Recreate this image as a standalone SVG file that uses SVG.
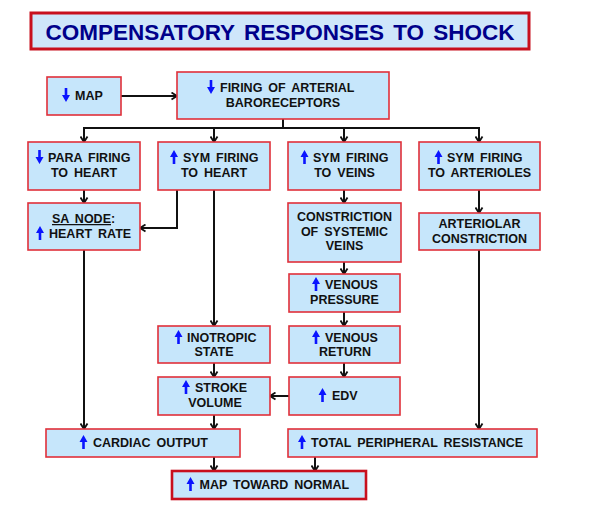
<svg xmlns="http://www.w3.org/2000/svg" width="592" height="520" viewBox="0 0 592 520">
<style>
.box{fill:#c6e6fb;stroke:#e0303a;stroke-width:1.6}
.t{font-family:"Liberation Sans",Arial,sans-serif;font-weight:bold;font-size:12.5px;fill:#111;word-spacing:2.5px}
.m{text-anchor:middle}
.c{fill:none;stroke:#111;stroke-width:2}
.ar{fill:#0a14ff}
</style>
<defs>
<marker id="ah" markerWidth="9" markerHeight="9" refX="7" refY="4.5" orient="auto" markerUnits="userSpaceOnUse">
<path d="M1.5,1 L7,4.5 L1.5,8" fill="none" stroke="#111" stroke-width="1.8"/>
</marker>
<path id="up" class="ar" d="M0,-14 L-4,-7 L-1.3,-7 L-1.3,0 L1.3,0 L1.3,-7 L4,-7 Z"/>
<path id="dn" class="ar" d="M0,0 L-4,-7 L-1.3,-7 L-1.3,-14 L1.3,-14 L1.3,-7 L4,-7 Z"/>
</defs>
<rect width="592" height="520" fill="#fff"/>

<g id="title">
<rect x="31" y="13" width="498" height="36" fill="#cfe6fa" stroke="#c8101e" stroke-width="3"/>
<text x="280" y="40" text-anchor="middle" font-family="Liberation Sans,Arial,sans-serif" font-weight="bold" font-size="22.5" fill="#00008a" word-spacing="3">COMPENSATORY RESPONSES TO SHOCK</text>
</g>

<g id="connectors">
<line class="c" x1="121" y1="96" x2="177" y2="96" marker-end="url(#ah)"/>
<line class="c" x1="283" y1="119" x2="283" y2="128"/>
<line class="c" x1="83" y1="128" x2="480" y2="128"/>
<line class="c" x1="84" y1="128" x2="84" y2="142" marker-end="url(#ah)"/>
<line class="c" x1="214" y1="128" x2="214" y2="142" marker-end="url(#ah)"/>
<line class="c" x1="344" y1="128" x2="344" y2="142" marker-end="url(#ah)"/>
<line class="c" x1="479" y1="128" x2="479" y2="142" marker-end="url(#ah)"/>
<line class="c" x1="84" y1="190" x2="84" y2="203" marker-end="url(#ah)"/>
<polyline class="c" points="177,190 177,228 140,228" marker-end="url(#ah)"/>
<line class="c" x1="214" y1="190" x2="214" y2="326" marker-end="url(#ah)"/>
<line class="c" x1="344" y1="190" x2="344" y2="203" marker-end="url(#ah)"/>
<line class="c" x1="479" y1="190" x2="479" y2="213" marker-end="url(#ah)"/>
<line class="c" x1="344" y1="262" x2="344" y2="274" marker-end="url(#ah)"/>
<line class="c" x1="344" y1="312" x2="344" y2="326" marker-end="url(#ah)"/>
<line class="c" x1="344" y1="363" x2="344" y2="377" marker-end="url(#ah)"/>
<line class="c" x1="214" y1="363" x2="214" y2="377" marker-end="url(#ah)"/>
<line class="c" x1="289" y1="396" x2="270" y2="396" marker-end="url(#ah)"/>
<line class="c" x1="214" y1="415" x2="214" y2="429" marker-end="url(#ah)"/>
<line class="c" x1="84" y1="250" x2="84" y2="429" marker-end="url(#ah)"/>
<line class="c" x1="479" y1="250" x2="479" y2="429" marker-end="url(#ah)"/>
<line class="c" x1="214" y1="457" x2="214" y2="471" marker-end="url(#ah)"/>
<line class="c" x1="315" y1="457" x2="315" y2="471" marker-end="url(#ah)"/>
</g>

<g id="map">
<rect class="box" x="47" y="77" width="74" height="38"/>
<use href="#dn" x="66" y="102"/>
<text class="t" x="75" y="100">MAP</text>
</g>

<g id="baro">
<rect class="box" x="177" y="72" width="212" height="47"/>
<use href="#dn" x="211" y="94"/>
<text class="t" x="220" y="92">FIRING OF ARTERIAL</text>
<text class="t m" x="283" y="107">BARORECEPTORS</text>
</g>

<g id="para">
<rect class="box" x="28" y="142" width="112" height="48"/>
<use href="#dn" x="39.5" y="164"/>
<text class="t" x="48" y="162">PARA FIRING</text>
<text class="t m" x="84" y="177">TO HEART</text>
</g>

<g id="symheart">
<rect class="box" x="158" y="142" width="112" height="48"/>
<use href="#up" x="174" y="164"/>
<text class="t" x="183" y="162">SYM FIRING</text>
<text class="t m" x="214" y="177">TO HEART</text>
</g>

<g id="symveins">
<rect class="box" x="288" y="142" width="113" height="48"/>
<use href="#up" x="304.5" y="164"/>
<text class="t" x="313" y="162">SYM FIRING</text>
<text class="t m" x="344.5" y="177">TO VEINS</text>
</g>

<g id="symart">
<rect class="box" x="419" y="142" width="121" height="48"/>
<use href="#up" x="438.5" y="164"/>
<text class="t" x="447" y="162">SYM FIRING</text>
<text class="t m" x="479.5" y="177">TO ARTERIOLES</text>
</g>

<g id="sanode">
<rect class="box" x="28" y="203" width="112" height="47"/>
<text class="t" x="52" y="223"><tspan text-decoration="underline">SA NODE</tspan>:</text>
<use href="#up" x="40" y="240"/>
<text class="t" x="49" y="238">HEART RATE</text>
</g>

<g id="constriction">
<rect class="box" x="288" y="203" width="113" height="59"/>
<text class="t m" x="344.5" y="221">CONSTRICTION</text>
<text class="t m" x="344.5" y="235.5">OF SYSTEMIC</text>
<text class="t m" x="344.5" y="250">VEINS</text>
</g>

<g id="arteriolar">
<rect class="box" x="419" y="213" width="121" height="37"/>
<text class="t m" x="479.5" y="228">ARTERIOLAR</text>
<text class="t m" x="479.5" y="243">CONSTRICTION</text>
</g>

<g id="venpressure">
<rect class="box" x="289" y="274" width="111" height="38"/>
<use href="#up" x="316" y="291"/>
<text class="t" x="325" y="289">VENOUS</text>
<text class="t m" x="344.5" y="304">PRESSURE</text>
</g>

<g id="inotropic">
<rect class="box" x="158" y="326" width="112" height="37"/>
<use href="#up" x="178.5" y="344"/>
<text class="t" x="187" y="342">INOTROPIC</text>
<text class="t m" x="214" y="356">STATE</text>
</g>

<g id="venreturn">
<rect class="box" x="289" y="326" width="111" height="37"/>
<use href="#up" x="316" y="344"/>
<text class="t" x="325" y="342">VENOUS</text>
<text class="t m" x="345" y="356">RETURN</text>
</g>

<g id="stroke">
<rect class="box" x="158" y="377" width="112" height="38"/>
<use href="#up" x="186" y="394"/>
<text class="t" x="195" y="392">STROKE</text>
<text class="t m" x="215" y="407">VOLUME</text>
</g>

<g id="edv">
<rect class="box" x="289" y="377" width="111" height="38"/>
<use href="#up" x="322.5" y="402"/>
<text class="t" x="332" y="400">EDV</text>
</g>

<g id="co">
<rect class="box" x="46" y="429" width="194" height="28"/>
<use href="#up" x="83.5" y="449"/>
<text class="t" x="93" y="447">CARDIAC OUTPUT</text>
</g>

<g id="tpr">
<rect class="box" x="288" y="429" width="249" height="28"/>
<use href="#up" x="302" y="449"/>
<text class="t" x="311" y="447">TOTAL PERIPHERAL RESISTANCE</text>
</g>

<g id="mapnormal">
<rect x="172" y="471" width="194" height="28" fill="#c6e6fb" stroke="#c8101e" stroke-width="2.6"/>
<use href="#up" x="190.5" y="491"/>
<text class="t" x="199.5" y="489">MAP TOWARD NORMAL</text>
</g>
</svg>
